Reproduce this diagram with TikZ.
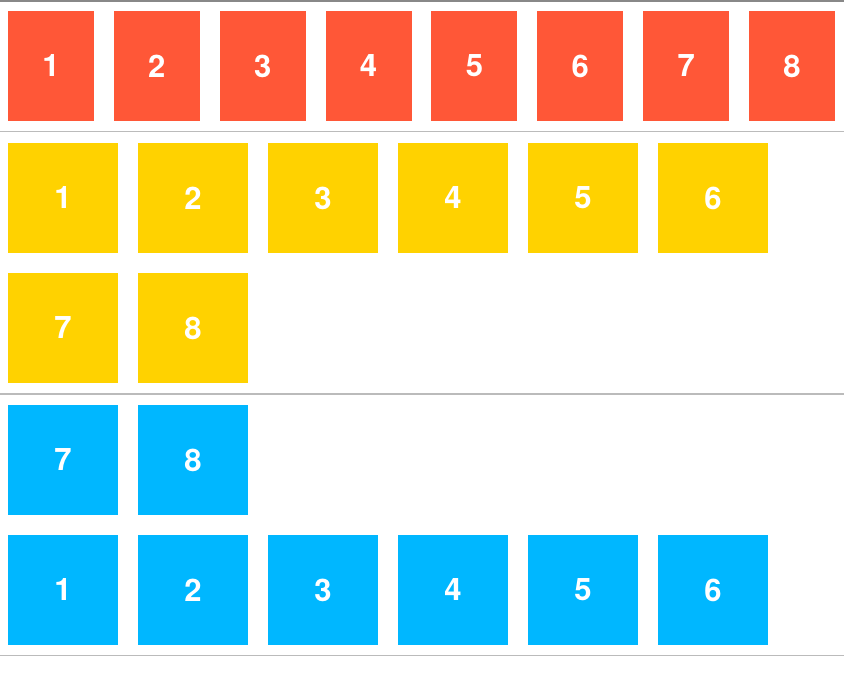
\documentclass[tikz,border=0pt]{standalone}
\usepackage{fontspec}
\setmainfont{TeX Gyre Heros}
\definecolor{cred}{HTML}{FF5737}
\definecolor{cyel}{HTML}{FFD200}
\definecolor{cblu}{HTML}{00B7FF}
\definecolor{sepgray}{HTML}{BBBBBB}
\definecolor{topgray}{HTML}{888888}
\tikzset{
  redbox/.style={fill=cred, draw=none, minimum width=86pt, minimum height=110pt, inner sep=0pt, text=white, font=\bfseries\fontsize{31}{31}\selectfont},
  sqbox/.style={draw=none, minimum width=110pt, minimum height=110pt, inner sep=0pt, text=white, font=\bfseries\fontsize{31}{31}\selectfont},
  yelbox/.style={sqbox, fill=cyel},
  blubox/.style={sqbox, fill=cblu},
  sepline/.style={draw=sepgray, line width=1.7pt},
}
\begin{document}
\begin{tikzpicture}[x=1pt,y=-1pt]
\useasboundingbox[fill=white] (0,0) rectangle (844,674);
\coordinate (t0) at (0,0.8); \coordinate (t1) at (844,0.8);
\draw[draw=topgray, line width=1.6pt] (t0) -- (t1);
\foreach \i in {1,...,8} {
  \node[redbox] (r\i) at ({51+(\i-1)*105.86},66) {\i};
}
\coordinate (s1a) at (0,131.5); \coordinate (s1b) at (844,131.5);
\draw[sepline] (s1a) -- (s1b);
\foreach \i in {1,...,6} {
  \node[yelbox] (y\i) at ({63+(\i-1)*130},198) {\i};
}
\node[yelbox] (y7) at (63,328) {7};
\node[yelbox] (y8) at (193,328) {8};
\coordinate (s2a) at (0,394); \coordinate (s2b) at (844,394);
\draw[sepline] (s2a) -- (s2b);
\node[blubox] (b7) at (63,460) {7};
\node[blubox] (b8) at (193,460) {8};
\foreach \i in {1,...,6} {
  \node[blubox] (b\i) at ({63+(\i-1)*130},590) {\i};
}
\coordinate (s3a) at (0,655.5); \coordinate (s3b) at (844,655.5);
\draw[sepline] (s3a) -- (s3b);
\end{tikzpicture}
\end{document}
